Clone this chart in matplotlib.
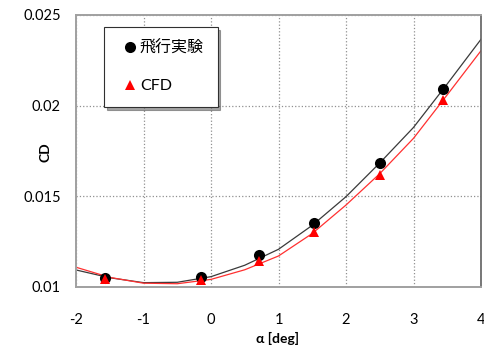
import matplotlib.pyplot as plt
from matplotlib.lines import Line2D

plt.rcParams['font.family'] = ['Lato', 'Noto Sans CJK JP', 'DejaVu Sans']

# measured drag coefficient (flight test) and CFD results
alpha_pts = [-1.57, -0.15, 0.71, 1.53, 2.51, 3.44]
cd_flight = [0.01051, 0.01057, 0.01175, 0.01351, 0.01684, 0.02090]
cd_cfd = [0.01045, 0.01040, 0.01143, 0.01303, 0.01620, 0.02031]

# trend curves
alpha_curve = [-2, -1.5, -1, -0.5, 0, 0.5, 1, 1.5, 2, 2.5, 3, 3.5, 4]
cd_flight_curve = [0.01094, 0.01051, 0.01024, 0.01026, 0.01057, 0.01120, 0.01208,
                   0.01340, 0.01498, 0.01684, 0.01880, 0.02120, 0.02366]
cd_cfd_curve = [0.01109, 0.01053, 0.01021, 0.01018, 0.01042, 0.01095, 0.01171,
                0.01295, 0.01452, 0.01625, 0.01820, 0.02060, 0.02303]

xticks = [-2, -1, 0, 1, 2, 3, 4]
yticks = [0.01, 0.015, 0.02, 0.025]
ytick_labels = ['0.01', '0.015', '0.02', '0.025']

fig = plt.figure(figsize=(4.84, 3.5), dpi=100)
ax = fig.add_axes([76 / 484, 63 / 350, 405 / 484, 272 / 350])

ax.plot(alpha_curve, cd_flight_curve, color='#3a3a3a', lw=0.9, zorder=2)
ax.plot(alpha_curve, cd_cfd_curve, color='#ff3030', lw=0.9, zorder=2)
ax.plot(alpha_pts, cd_flight, 'o', color='black', ms=8, mew=0, zorder=3)
ax.plot(alpha_pts, cd_cfd, '^', color='red', ms=7.5, mew=0, zorder=4)

ax.set_xlim(-2, 4)
ax.set_ylim(0.01, 0.025)
ax.set_xticks(xticks)
ax.set_xticklabels([str(t) for t in xticks])
ax.set_yticks(yticks)
ax.set_yticklabels(ytick_labels)
ax.tick_params(length=0, labelsize=10.5, pad=11)
ax.tick_params(axis='x', pad=19)
ax.grid(True, ls=':', color='#909090', lw=0.9)
ax.set_axisbelow(True)

for side in ['left', 'bottom', 'top']:
    ax.spines[side].set_color('#a0a0a0')
    ax.spines[side].set_linewidth(1.4)
ax.spines['right'].set_color('#606060')
ax.spines['right'].set_linewidth(1.2)

fig.text(46 / 484, 1 - 152 / 350, 'CD', rotation=90, fontsize=10,
         fontweight='bold', ha='center', va='center')
fig.text(277 / 484, 1 - 338 / 350, 'α [deg]', fontsize=10,
         fontweight='bold', ha='center', va='center')

handles = [
    Line2D([], [], marker='o', ls='none', color='black', ms=8, mew=0),
    Line2D([], [], marker='^', ls='none', color='red', ms=7.5, mew=0),
]
leg = fig.legend(handles, ['飛行実験', 'CFD'], loc='upper left',
                 bbox_to_anchor=(104 / 484, 1 - 27 / 350),
                 frameon=True, fancybox=False, shadow=True,
                 edgecolor='#303030', fontsize=11.5, handlelength=1.5,
                 handletextpad=-0.1, labelspacing=1.45, borderpad=0.85,
                 borderaxespad=0)
leg.get_frame().set_linewidth(0.8)

fig.savefig('out.png', dpi=100)
